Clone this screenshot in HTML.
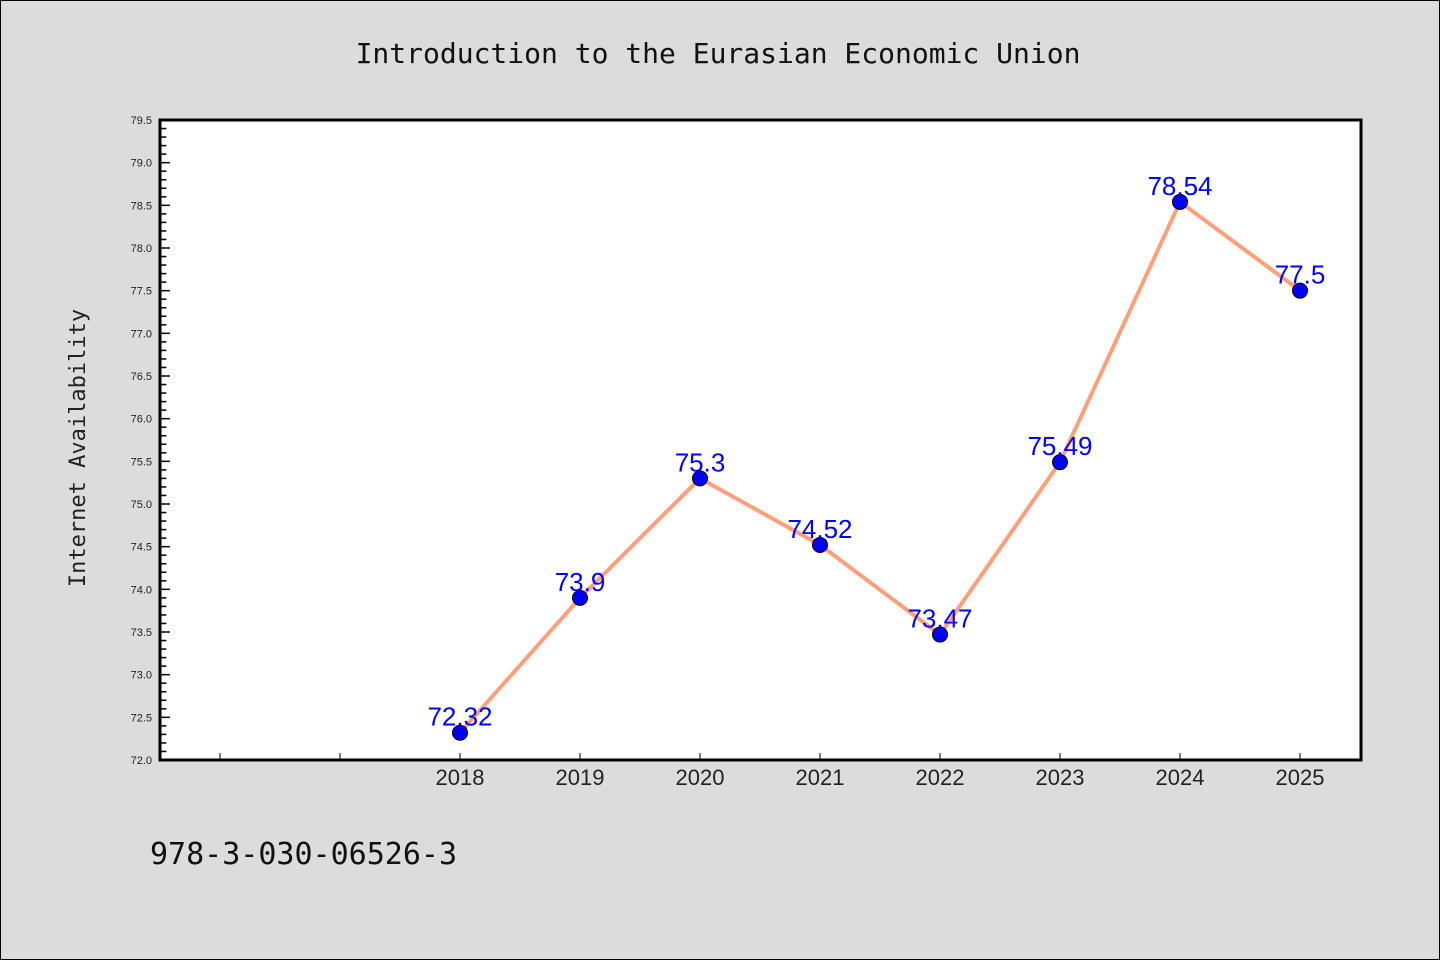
<!DOCTYPE html>
<html><head><meta charset="utf-8"><style>
body{margin:0;background:#dcdcdc;}
svg{display:block;font-family:"Liberation Sans","DejaVu Sans",sans-serif;}
</style></head><body>
<svg id="c" width="1440" height="960">
<rect x="0.5" y="0.5" width="1439" height="959" fill="#dcdcdc" stroke="#000"/>
<text x="718" y="63" font-size="28" text-anchor="middle" font-family="DejaVu Sans Mono,monospace" fill="#111">Introduction to the Eurasian Economic Union</text>
<text transform="translate(85,448) rotate(-90)" font-size="22" text-anchor="middle" font-family="DejaVu Sans Mono,monospace" fill="#222">Internet Availability</text>
<text x="150" y="864" font-size="30" font-family="DejaVu Sans Mono,monospace" fill="#111">978-3-030-06526-3</text>
<rect x="160" y="120" width="1201" height="640" fill="#fff" stroke="#000" stroke-width="3"/>
<g id="g"></g>
</svg>
<script>
const years=[2018,2019,2020,2021,2022,2023,2024,2025];
const values=[72.32,73.9,75.3,74.52,73.47,75.49,78.54,77.5];
const labels=["72.32","73.9","75.3","74.52","73.47","75.49","78.54","77.5"];
const yTicks=["72.0","72.5","73.0","73.5","74.0","74.5","75.0","75.5","76.0","76.5","77.0","77.5","78.0","78.5","79.0","79.5"];
const NS="http://www.w3.org/2000/svg";
const g=document.getElementById('g');
const X=v=>160+(v-2015.5)*120;
const Y=v=>760-(v-72)*640/7.5;
function mk(t,a,p){const e=document.createElementNS(NS,t);for(const k in a)e.setAttribute(k,a[k]);(p||g).appendChild(e);return e;}
for(let i=0;i<=75;i++){const v=72+i*0.1;const major=i%5===0;
const l=mk('line',{x1:161,x2:161+(major?27/3:16/3*1.0+0),y1:Y(v),y2:Y(v),stroke:'#000','stroke-width':1.5});

}
yTicks.forEach(s=>{const t=mk('text',{x:152,y:Y(+s)+4,'font-size':11,'text-anchor':'end',fill:'#222'});t.textContent=s;

});
[2016,2017].concat(years).forEach(yr=>{const l=mk('line',{x1:X(yr),x2:X(yr),y1:759,y2:753,stroke:'#000','stroke-width':1});

});
years.forEach(yr=>{const t=mk('text',{x:X(yr),y:785,'font-size':22,'text-anchor':'middle',fill:'#222'});t.textContent=yr;

});
const pl=mk('polyline',{points:years.map((y,i)=>X(y)+','+Y(values[i])).join(' '),fill:'none',stroke:'#ffa07a','stroke-width':4});


years.forEach((y,i)=>{const c=mk('circle',{cx:X(y),cy:Y(values[i]),r:7.5,fill:'#0000ff',stroke:'#000','stroke-width':1});


const t=mk('text',{x:X(y),y:Y(values[i])-7,'font-size':26,'text-anchor':'middle',fill:'#0000ff'});t.textContent=labels[i];

});
</script>
</body></html>
